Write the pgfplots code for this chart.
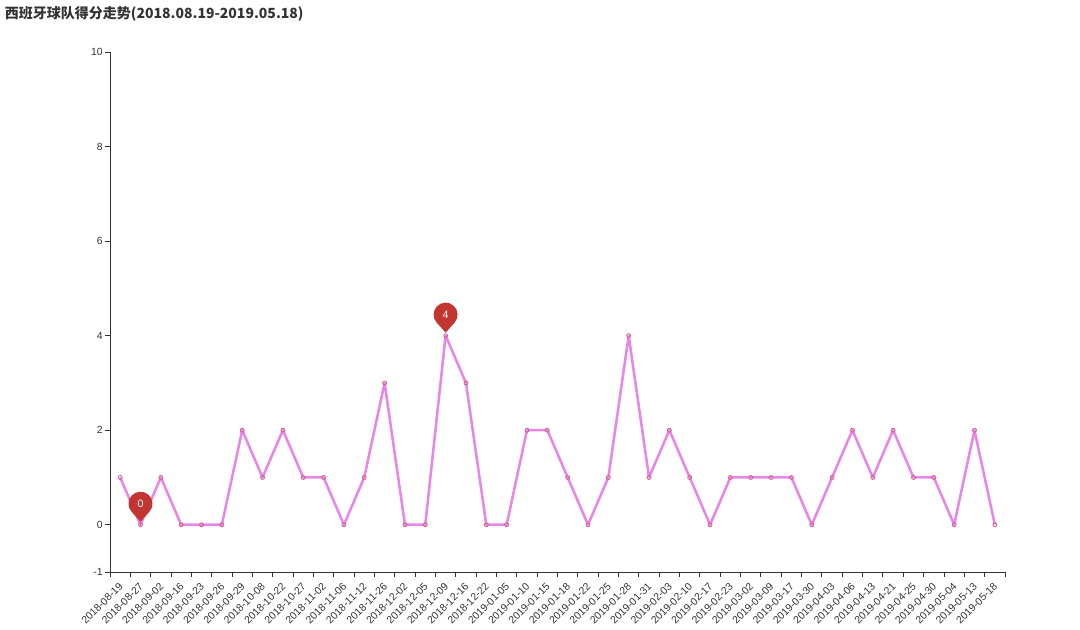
\documentclass[border=0pt]{standalone}
\usepackage{fontspec}
\setmainfont{Liberation Sans}
\newfontfamily\cjk{Noto Sans CJK SC}
\usepackage{pgfplots}
\pgfplotsset{compat=1.18}

\definecolor{axisgray}{RGB}{51,51,51}
\definecolor{lineviolet}{RGB}{232,134,232}
\definecolor{markedge}{RGB}{205,95,135}
\definecolor{pinred}{RGB}{194,53,49}

% echarts-like pin: round head with a point at the bottom
\pgfdeclareplotmark{pin}{%
  \pgfpathmoveto{\pgfpoint{0pt}{2.25pt}}%
  \pgfpathlineto{\pgfpoint{6.69pt}{9.73pt}}%
  \pgfpatharc{-42}{222}{9pt}%
  \pgfpathclose
  \pgfusepathqfill
}

\begin{document}
\begin{tikzpicture}
\useasboundingbox (0,0) rectangle (810pt,472.5pt);
\node[anchor=west, inner sep=0pt, font=\cjk\bfseries\fontsize{10.5}{12}\selectfont, text=axisgray]
  at (3.5pt,462pt) {西班牙球队得分走势(2018.08.19-2019.05.18)};
\begin{axis}[
    at={(82.5pt,43.5pt)}, anchor=south west,
    scale only axis,
    width=671.25pt, height=390pt,
    xmin=-0.5, xmax=43.5,
    ymin=-1, ymax=10,
    axis x line*=bottom, axis y line*=left,
    axis line style={axisgray, line width=0.7pt, -},
    tick style={axisgray, line width=0.7pt},
    tick align=outside,
    xtick={0,...,43},
    major x tick style={draw=none},
    minor xtick={-0.5,0.5,...,43.5},
    minor tick length=3.75pt,
    ytick={-1,0,2,4,6,8,10},
    major tick length=3.75pt,
    xticklabels={2018-08-19,2018-08-27,2018-09-02,2018-09-16,2018-09-23,2018-09-26,2018-09-29,2018-10-08,2018-10-22,2018-10-27,2018-11-02,2018-11-06,2018-11-12,2018-11-26,2018-12-02,2018-12-05,2018-12-09,2018-12-16,2018-12-22,2019-01-05,2019-01-10,2019-01-15,2019-01-18,2019-01-22,2019-01-25,2019-01-28,2019-01-31,2019-02-03,2019-02-10,2019-02-17,2019-02-23,2019-03-02,2019-03-09,2019-03-17,2019-03-30,2019-04-03,2019-04-06,2019-04-13,2019-04-21,2019-04-25,2019-04-30,2019-05-04,2019-05-13,2019-05-18},
    x tick label style={rotate=45, anchor=north east, font=\fontsize{7.8}{9}\selectfont, text=axisgray, inner sep=1pt, yshift=-0.5pt, xshift=-2.5pt},
    y tick label style={font=\fontsize{7.8}{9}\selectfont, text=axisgray, inner sep=1.5pt},
    /pgf/number format/assume math mode=true,
    clip=false,
  ]
  \addplot[lineviolet, line width=1.9pt, line join=round, mark=o, mark size=1.5pt,
    mark options={draw=markedge, fill=white, line width=0.6pt}]
    coordinates {
    (0,1) (1,0) (2,1) (3,0) (4,0) (5,0) (6,2) (7,1) (8,2) (9,1)
    (10,1) (11,0) (12,1) (13,3) (14,0) (15,0) (16,4) (17,3) (18,0) (19,0)
    (20,2) (21,2) (22,1) (23,0) (24,1) (25,4) (26,1) (27,2) (28,1) (29,0)
    (30,1) (31,1) (32,1) (33,1) (34,0) (35,1) (36,2) (37,1) (38,2) (39,1)
    (40,1) (41,0) (42,2) (43,0)};
  % markPoint: min and max
  \addplot[only marks, mark=pin, color=pinred, mark options={fill=pinred},
    point meta=y, nodes near coords,
    every node near coord/.append style={anchor=center, yshift=15.75pt, text=white,
      font=\fontsize{8}{9}\selectfont, inner sep=0pt}]
    coordinates {(1,0) (16,4)};
\end{axis}
\end{tikzpicture}
\end{document}
